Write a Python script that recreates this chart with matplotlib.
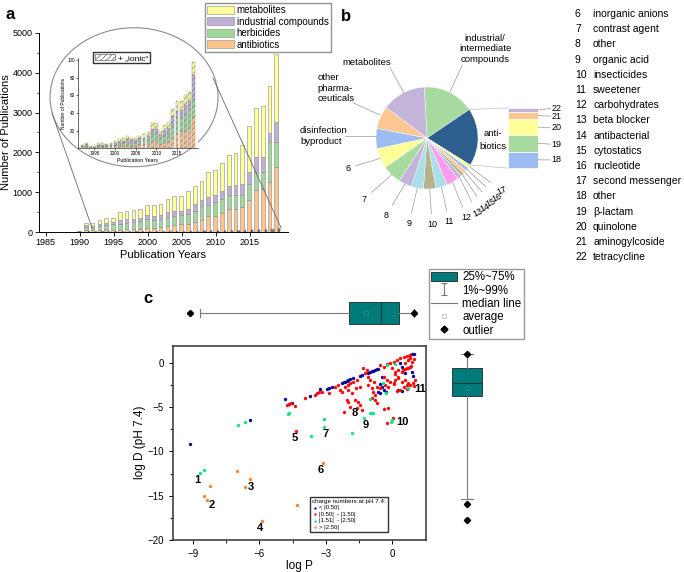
import matplotlib
matplotlib.use('Agg')
import matplotlib.pyplot as plt
from matplotlib.patches import Ellipse, Patch, ConnectionPatch
from matplotlib.lines import Line2D
from matplotlib.path import Path
import numpy as np

plt.rcParams['font.family'] = ['Liberation Sans', 'DejaVu Sans']
plt.rcParams['hatch.linewidth'] = 0.4

# ---------------- panel a: publications per year ----------------
years = list(range(1985, 2020))
antibiotics = [2, 1, 1, 2, 3, 10, 42, 42, 42, 42, 59, 59, 76, 76, 84, 109, 109, 126, 151, 168, 193, 210,
               252, 294, 395, 412, 487, 588, 588, 630, 800, 1050, 1092, 1260, 1621]
herbicides = [1, 1, 1, 1, 2, 8, 84, 67, 109, 126, 134, 151, 159, 176, 185, 210, 185, 210, 227, 227, 227, 235,
              278, 353, 295, 344, 353, 336, 352, 310, 418, 462, 420, 1008, 629]
industrial = [1, 0, 0, 1, 1, 5, 42, 34, 59, 59, 59, 84, 93, 84, 92, 101, 109, 84, 118, 125, 110, 126,
              167, 151, 192, 168, 185, 236, 236, 278, 294, 378, 378, 227, 522]
metabolites = [1, 1, 1, 1, 2, 7, 59, 84, 100, 113, 108, 216, 202, 229, 229, 260, 277, 290, 344, 395, 385, 459,
               463, 477, 613, 631, 715, 780, 814, 962, 1148, 1220, 1275, 1175, 1698]

# "ionic" subset (inset)
ion_years = list(range(1991, 2020))
ion_anti = [0, 1, 1, 0, 0, 1, 1, 1, 1, 2, 2, 3, 3, 3, 3, 4, 4, 5, 8, 8, 5, 6, 7, 12, 16, 18, 20, 22, 35]
ion_herb = [0, 1, 3, 1, 1, 2, 2, 2, 2, 2, 3, 3, 4, 3, 3, 4, 4, 5, 8, 8, 6, 8, 9, 14, 18, 17, 19, 23, 21]
ion_ind = [0, 1, 1, 0, 0, 1, 1, 1, 1, 2, 2, 2, 3, 3, 3, 3, 4, 4, 6, 6, 4, 6, 7, 10, 8, 8, 10, 8, 27]
ion_met = [0, 1, 1, 1, 1, 2, 2, 1, 2, 2, 3, 3, 4, 3, 3, 3, 4, 4, 7, 7, 5, 6, 7, 9, 11, 10, 11, 11, 15]

cat_names = ['antibiotics', 'herbicides', 'industrial compounds', 'metabolites']
cat_colors = ['#FDC38E', '#9ED89A', '#BFAFD7', '#FFFF99']

# ---------------- panel b: compound classes ----------------
pie_names = ['industrial', 'antibiotics', '17', '16', '15', '14', '13', '12', '11', '10', '9', '8', '7', '6',
             'disinfection', 'other pharma', 'metabolites']
pie_sizes = [59, 66, 4, 4, 4, 4, 5, 14, 13, 14, 14, 15, 22, 23, 23, 26, 50]
pie_colors = ['#A8DBA0', '#2D5F8E', '#FFFF99', '#9DBDF2', '#FDC794', '#B6B38C', '#C4B4DA', '#FF9CF2',
              '#A9DFE8', '#B6B38C', '#A9DFE8', '#C4B4DA', '#A8DBA0', '#FFFF99', '#9DBDF2', '#FDC794', '#C4B4DA']
abx_names = ['18', '19', '20', '21', '22']
abx_sizes = [27.5, 27.5, 26, 12.5, 6.5]
abx_colors = ['#9DBDF2', '#A8DBA0', '#FFFF99', '#FDC794', '#C4B4DA']
legend_nums = list(range(6, 23))
legend_names = ['inorganic anions', 'contrast agent', 'other', 'organic acid', 'insecticides', 'sweetener',
                'carbohydrates', 'beta blocker', 'antibacterial', 'cytostatics', 'nucleotide',
                'second messenger', 'other', 'β-lactam', 'quinolone', 'aminogylcoside', 'tetracycline']

# ---------------- panel c: log P vs log D ----------------
blue_P = [-9.13, -6.41, -4.83, -4.53, -4.64, -3.71, -2.95, -2.88, -2.73, -2.28, -2.20, -2.13, -2.05, -1.98,
          -1.90, -1.78, -1.45, -1.38, -1.08, -1.00, -0.93, -0.86, -0.78, -0.70, -0.63, -0.48, -0.58, -0.48,
          -0.63, -0.55, -0.40, -0.28, 0.27, 0.42, 0.35, 0.42, 0.57, 0.87, 0.92, 0.77, 0.87, 0.99, -3.25]
blue_D = [-9.13, -6.45, -4.08, -4.50, -4.64, -3.70, -2.95, -2.84, -2.65, -2.27, -2.16, -2.08, -2.00, -1.89,
          -1.81, -1.70, -1.44, -1.36, -1.06, -0.99, -0.91, -0.84, -0.76, -0.68, -0.65, -1.52, -2.38, -2.65,
          -3.22, -3.40, -3.03, -3.22, -3.03, -3.10, 0.00, -0.38, -1.13, -0.95, -1.44, 0.94, 1.05, 1.05, -2.95]
red_P = [-4.76, -4.64, -4.38, -4.57, -3.93, -3.48, -3.41, -3.29, -3.18, -2.88, -2.58, -2.43, -2.36, -2.28,
         -2.13, -1.98, -1.90, -1.76, -1.60, -1.98, -1.83, -2.05, -1.98, -1.68, -1.53, -1.45, -1.90, -1.60,
         -1.38, -2.16, -1.31, -1.23, -1.15, -1.08, -1.00, -1.08, -0.93, -0.86, -0.78, -0.93, -0.78, -0.70,
         -0.55, -0.40, -0.25, -0.10, 0.05, 0.20, 0.35, 0.50, 0.65, 0.80, -0.03, 0.12, 0.27, 0.42, 0.57,
         0.72, 0.83, 0.87, 0.72, 0.57, 0.80, 0.95, -0.25, -0.10, 0.05, 0.12, 0.27, 0.42, 0.57, 0.72, 0.65,
         0.50, 0.80, 0.95, 0.35, 0.20, 0.05, -0.40, -0.33, -0.18, -0.40, -0.18, -0.25, 0.04, -4.34, 0.94,
         1.02, 0.64, 0.79, -1.63, -1.45, -0.70, -0.85, -0.55, 0.12, 0.27, 0.64, 0.49]
red_D = [-4.73, -4.61, -4.84, -4.54, -3.97, -3.59, -3.40, -3.29, -3.22, -3.40, -2.65, -2.46, -3.03, -3.22,
         -2.65, -2.46, -2.20, -2.08, -1.89, -3.03, -3.40, -4.16, -4.35, -4.16, -4.35, -4.73, -4.92, -5.10,
         -5.29, -5.48, -0.57, -1.13, -0.76, -1.51, -1.89, -2.46, -2.84, -3.22, -3.59, -3.97, -4.16, -4.54,
         -0.19, -0.38, -0.08, 0.07, 0.18, 0.37, 0.57, 0.75, 0.83, 0.94, -0.57, -0.95, -0.76, -0.95, -0.68,
         -0.57, -0.31, 0.18, 0.37, 0.00, 0.57, 0.45, -1.89, -2.08, -2.20, -1.89, -1.70, -2.08, -1.89, -2.20,
         -2.46, -2.65, -2.46, -2.58, -3.03, -3.10, -2.35, -1.52, -2.46, -2.65, -5.22, -5.10, -6.80, -6.24,
         -7.62, -2.27, -1.89, -0.57, -0.45, -2.84, -2.72, -2.65, -2.08, -2.84, -1.25, -1.51, -2.90, -0.76]
green_P = [-8.69, -8.48, -6.98, -6.63, -4.71, -4.68, -3.65, -3.10, -3.09, -1.80, -1.30, -1.00, -0.88, -0.93,
           -1.00, 0.00, -0.07, -0.43, -0.25, 0.12, -0.28, 0.72]
green_D = [-12.45, -12.15, -7.02, -6.68, -5.74, -5.67, -8.23, -6.34, -7.25, -7.94, -6.24, -5.67, -5.60, -5.60,
           -4.08, -6.43, -6.62, -2.20, -0.19, -0.08, -3.40, -2.84]
orange_P = [-8.24, -8.51, -8.36, -7.00, -6.66, -6.41, -5.88, -4.31, -3.13]
orange_D = [-13.96, -15.10, -15.47, -12.19, -14.07, -13.13, -17.92, -16.04, -11.32]
charge_labels = ['< |0.50|', '|0.50|  - |1.50|', '|1.51|  - |2.50|', '> |2.50|']
charge_colors = ['#0A0A96', '#FF0A0A', '#14E38C', '#F0893A']

point_ids = ['1', '2', '3', '4', '5', '6', '7', '8', '9', '10', '11']
id_P = [-8.80, -8.13, -6.40, -5.95, -4.38, -3.22, -3.00, -1.68, -1.20, 0.45, 1.24]
id_D = [-13.2, -16.1, -14.0, -18.7, -8.5, -12.1, -8.05, -5.6, -7.0, -6.6, -2.9]

logP_stats = dict(q1=-1.95, med=-0.525, q3=0.315, mean=-1.2, whislo=-8.69, whishi=0.975, fliers=[-9.13, 0.975])
logD_stats = dict(q1=-3.7, med=-2.27, q3=-0.57, mean=-2.84, whislo=-15.4, whishi=1.06, fliers=[1.06, -16.0, -17.8])

teal = '#007B7B'

fig = plt.figure(figsize=(6.84, 5.72), dpi=100)

# ============ panel a ============
ax_a = fig.add_axes([0.057, 0.5944, 0.364, 0.348])
bottom = np.zeros(len(years))
for vals, col, name in zip([antibiotics, herbicides, industrial, metabolites], cat_colors, cat_names):
    ax_a.bar(np.array(years) - 0.12, vals, width=0.55, bottom=bottom, color=col,
             edgecolor='#8a8a8a', linewidth=0.4, label=name)
    bottom += np.array(vals)
ib = np.zeros(len(ion_years))
for vals, col in zip([ion_anti, ion_herb, ion_ind, ion_met], cat_colors):
    ax_a.bar(np.array(ion_years) + 0.33, vals, width=0.32, bottom=ib, color=col,
             edgecolor='#444444', linewidth=0.3, hatch='//////')
    ib += np.array(vals)
ax_a.set_xlim(1984, 2020.6)
ax_a.set_ylim(0, 5000)
ax_a.set_xticks(range(1985, 2016, 5))
ax_a.set_yticks(range(0, 5001, 1000))
ax_a.set_yticks(range(500, 5000, 1000), minor=True)
ax_a.tick_params(labelsize=6.5, length=3, width=0.6, pad=1.5)
ax_a.tick_params(which='minor', length=1.8, width=0.5)
for s in ['top', 'right']:
    ax_a.spines[s].set_visible(False)
for s in ['left', 'bottom']:
    ax_a.spines[s].set_linewidth(0.7)
ax_a.set_xlabel('Publication Years', fontsize=8, labelpad=2)
ax_a.set_ylabel('Number of Publications', fontsize=8, labelpad=1)
h, l = ax_a.get_legend_handles_labels()
fig.legend(h[::-1], l[::-1], loc='upper left', bbox_to_anchor=(0.2997, 0.995), fontsize=7,
           frameon=True, fancybox=False, edgecolor='#777777', borderpad=0.25, labelspacing=0.15,
           handlelength=2.7, handleheight=0.9, handletextpad=0.3, borderaxespad=0)

# zoom ellipse + connectors
ell = Ellipse((0.196, 0.830), 0.2456, 0.243, transform=fig.transFigure, facecolor='white',
              edgecolor='#8c8c8c', linewidth=0.8, zorder=1)
fig.add_artist(ell)
for fxy, dxy in [((0.076, 0.8024), (1991.8, 100)), ((0.3114, 0.8636), (2019.6, 100))]:
    cp = ConnectionPatch(xyA=fxy, coordsA=fig.transFigure, xyB=dxy, coordsB=ax_a.transData,
                         color='#666666', linewidth=0.6, zorder=1.5)
    fig.add_artist(cp)

ax_in = fig.add_axes([0.114, 0.741, 0.175, 0.157])
ax_in.set_zorder(3)
ib = np.zeros(len(ion_years))
for vals, col in zip([ion_anti, ion_herb, ion_ind, ion_met], cat_colors):
    ax_in.bar(ion_years, vals, width=0.7, bottom=ib, color=col, edgecolor='#777777',
              linewidth=0.25, hatch='//////')
    ib += np.array(vals)
ax_in.set_xlim(1991, 2020)
ax_in.set_ylim(0, 102)
ax_in.set_xticks(range(1995, 2016, 5))
ax_in.set_yticks(range(20, 101, 20))
ax_in.tick_params(labelsize=3.3, length=1.2, width=0.4, pad=1)
for s in ['top', 'right']:
    ax_in.spines[s].set_visible(False)
for s in ['left', 'bottom']:
    ax_in.spines[s].set_linewidth(0.4)
ax_in.set_xlabel('Publication Years', fontsize=3.8, labelpad=1)
ax_in.set_ylabel('Number of Publications', fontsize=3.5, labelpad=1)
ax_in.legend([Patch(facecolor='white', edgecolor='#444444', hatch='//////', linewidth=0.4)],
             ['+ „ionic“'], loc='upper left', bbox_to_anchor=(0.125, 1.07), fontsize=6,
             fancybox=False, edgecolor='#333333', borderpad=0.2, handlelength=2.5, handletextpad=0.3,
             borderaxespad=0, framealpha=1)

# ============ panel b ============
ax_b = fig.add_axes([0.424, 0.5804, 0.3947, 0.3846])
start = 93
ax_b.pie(pie_sizes, colors=pie_colors, startangle=start, counterclock=False, radius=1,
         wedgeprops=dict(edgecolor='white', linewidth=0.3))
ax_b.set_xlim(-2.686, 2.608)
ax_b.set_ylim(-2.0, 2.314)
ax_b.set_aspect('auto')
ax_b.axis('off')

tot = float(sum(pie_sizes))
cum = np.concatenate([[0], np.cumsum(pie_sizes)])
mid = {n: np.deg2rad(start - (cum[i] + pie_sizes[i] / 2) / tot * 360) for i, n in enumerate(pie_names)}
edges = np.deg2rad(start - cum / tot * 360)

gray = '#9a9a9a'
num_pos = {'6': (-1.55, -0.59), '7': (-1.24, -1.20), '8': (-0.80, -1.51), '9': (-0.35, -1.67),
           '10': (0.10, -1.69), '11': (0.43, -1.63), '12': (0.78, -1.55), '13': (0.99, -1.47),
           '14': (1.13, -1.37), '15': (1.26, -1.27), '16': (1.37, -1.16), '17': (1.47, -1.04)}
for n, (tx, ty) in num_pos.items():
    a = mid[n]
    ax_b.annotate(n, xy=(np.cos(a), np.sin(a)), xytext=(tx, ty), fontsize=6.5, ha='center', va='center',
                  rotation=25 if n in ['13', '14', '15', '16', '17'] else 0,
                  arrowprops=dict(arrowstyle='-', color=gray, lw=0.5, shrinkA=2, shrinkB=0))

big_labels = [('industrial/\nintermediate\ncompounds', (0.45, 0.90), (0.69, 1.43), (1.14, 1.75), 'center'),
              ('metabolites', (-0.45, 0.88), (-0.73, 1.39), (-1.18, 1.49), 'center'),
              ('other\npharma-\nceuticals', (-0.92, 0.45), (-1.45, 0.69), (-2.14, 0.98), 'left'),
              ('disinfection\nbyproduct', (-1.0, 0.04), (-1.61, 0.04), (-2.49, 0.04), 'left')]
for txt, p0, p1, tp, ha in big_labels:
    ax_b.plot([p0[0], p1[0]], [p0[1], p1[1]], color=gray, lw=0.5)
    ax_b.text(tp[0], tp[1], txt, fontsize=6.8, ha=ha, va='center', linespacing=1.25)
ax_b.text(1.29, -0.04, 'anti-\nbiotics', fontsize=6.8, ha='center', va='center', linespacing=1.5)

# antibiotics breakdown bar
bar_x0, bar_w, bar_lo, bar_hi = 1.588, 0.588, -0.59, 0.59
scale = (bar_hi - bar_lo) / sum(abx_sizes)
b0 = bar_lo
abx_label_y = [-0.43, -0.12, 0.20, 0.43, 0.58]
for n, v, c, ly in zip(abx_names, abx_sizes, abx_colors, abx_label_y):
    ax_b.bar(bar_x0 + bar_w / 2, v * scale, width=bar_w, bottom=b0, color=c, edgecolor='white', linewidth=0.5)
    cy = b0 + v * scale / 2
    ax_b.plot([bar_x0 + bar_w, 2.42], [cy, ly], color=gray, lw=0.5)
    ax_b.text(2.44, ly, n, fontsize=6.5, va='center', ha='left')
    b0 += v * scale
for e, by in [(edges[1], bar_hi), (edges[2], bar_lo)]:
    ax_b.plot([np.cos(e), bar_x0], [np.sin(e), by], color='#c8c8c8', lw=0.6)

for i, (num, name) in enumerate(zip(legend_nums, legend_names)):
    y = 1 - (14 + 15.2 * i) / 572
    fig.text(0.8406, y, str(num), fontsize=7.5, va='center', ha='left')
    fig.text(0.867, y, name, fontsize=7.5, va='center', ha='left')

# ============ panel c ============
ax_c = fig.add_axes([0.2525, 0.0565, 0.3699, 0.3392])
for P, D, col, lab in zip([blue_P, red_P, green_P, orange_P], [blue_D, red_D, green_D, orange_D],
                          charge_colors, charge_labels):
    ax_c.scatter(P, D, s=6, color=col, linewidths=0, label=lab, zorder=3)
for t, px, py in zip(point_ids, id_P, id_D):
    ax_c.text(px, py, t, fontsize=8, fontweight='bold', ha='center', va='center')
ax_c.set_xlim(-9.9, 1.5)
ax_c.set_ylim(-20, 2)
ax_c.set_xticks([-9, -6, -3, 0])
ax_c.set_xticks([-7.5, -4.5, -1.5], minor=True)
ax_c.set_yticks([0, -5, -10, -15, -20])
ax_c.set_yticks([-2.5, -7.5, -12.5, -17.5], minor=True)
ax_c.tick_params(labelsize=7, length=3, width=0.7)
ax_c.tick_params(which='minor', length=2, width=0.6)
for s in ax_c.spines.values():
    s.set_linewidth(1.1)
    s.set_color('#333333')
ax_c.set_xlabel('log P', fontsize=8.5, labelpad=1)
ax_c.set_ylabel('log D (pH 7.4)', fontsize=8.5, labelpad=1)
ax_c.legend(title='charge numbers at pH 7.4:', loc='upper left', bbox_to_anchor=(0.543, 0.22),
            fontsize=4.3, title_fontsize=4.5, alignment='left', fancybox=False, edgecolor='#333333',
            borderpad=0.35, labelspacing=0.2, handlelength=0.8, handletextpad=0.4, borderaxespad=0,
            markerscale=0.7, framealpha=1)

box_kw = dict(patch_artist=True, showmeans=True, widths=0.9, capwidths=0.35,
              boxprops=dict(facecolor=teal, edgecolor='#2a3a3a', linewidth=0.7),
              whiskerprops=dict(color='#7a7a7a', linewidth=0.8),
              capprops=dict(color='#7a7a7a', linewidth=0.8),
              medianprops=dict(color='#173a3a', linewidth=0.8),
              meanprops=dict(marker='s', markersize=2.2, markerfacecolor='none',
                             markeredgecolor='#3f8f8f', markeredgewidth=0.4),
              flierprops=dict(marker='D', markersize=3.2, markerfacecolor='black', markeredgecolor='black'))

ax_top = fig.add_axes([0.2525, 0.4283, 0.3699, 0.049], sharex=ax_c)
ax_top.bxp([logP_stats], positions=[0], orientation='horizontal', **box_kw)
ax_top.set_ylim(-0.55, 0.55)
ax_top.axis('off')

ax_r = fig.add_axes([449 / 684, 0.0565, 36 / 684, 0.3392], sharey=ax_c)
ax_r.bxp([logD_stats], positions=[0], orientation='vertical', **box_kw)
ax_r.set_xlim(-0.55, 0.55)
ax_r.axis('off')
ax_c.set_ylim(-20, 2)
ax_c.set_xlim(-9.9, 1.5)

ibeam = Path([(-0.45, 1), (0.45, 1), (0, 1), (0, -1), (-0.45, -1), (0.45, -1)],
             [Path.MOVETO, Path.LINETO, Path.MOVETO, Path.LINETO, Path.MOVETO, Path.LINETO])
box_handles = [Patch(facecolor=teal, edgecolor='#2a3a3a', linewidth=0.7),
               Line2D([], [], ls='none', marker=ibeam, markersize=9, markeredgecolor='#7a7a7a',
                      markerfacecolor='none', markeredgewidth=0.8),
               Line2D([], [], color='#7a7a7a', lw=0.8),
               Line2D([], [], ls='none', marker='s', markersize=2.5, markerfacecolor='white',
                      markeredgecolor='#b0b0b0', markeredgewidth=0.5),
               Line2D([], [], ls='none', marker='D', markersize=3.5, color='black')]
box_labels = ['25%~75%', '1%~99%', 'median line', 'average', 'outlier']
fig.legend(box_handles, box_labels, loc='upper left', bbox_to_anchor=(0.627, 0.5297), fontsize=8.3,
           fancybox=False, edgecolor='#999999', borderpad=0.2, labelspacing=0.12, handlelength=2.2,
           handleheight=0.9, handletextpad=0.5, borderaxespad=0, framealpha=1)

fig.text(0.0146, 0.9738, 'a', fontsize=12, fontweight='bold', ha='center', va='center')
fig.text(0.506, 0.972, 'b', fontsize=12, fontweight='bold', ha='center', va='center')
fig.text(0.216, 0.479, 'c', fontsize=12, fontweight='bold', ha='center', va='center')

fig.savefig('out.png', dpi=100)
